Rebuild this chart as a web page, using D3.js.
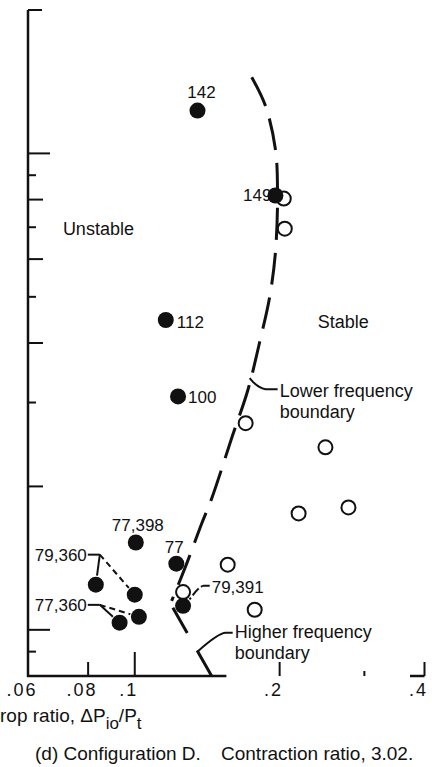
<!DOCTYPE html>
<html>
<head>
<meta charset="utf-8">
<script src="https://cdn.jsdelivr.net/npm/d3@7"></script>
<style>
  body { margin: 0; background: #fff; }
  svg { display: block; font-family: "Liberation Sans", Arial, sans-serif; }
</style>
</head>
<body>
<svg id="chart" width="432" height="767"></svg>
<script>
// filled symbols = unstable runs, open symbols = stable runs
const unstableX = [0.135, 0.196, 0.116, 0.123, 0.1005, 0.122, 0.083, 0.100, 0.126, 0.102, 0.093];
const unstableY = [1.23, 0.816, 0.447, 0.309, 0.1525, 0.1377, 0.1244, 0.1185, 0.1123, 0.1065, 0.1035];
const unstableLabels = ["142", "149", "112", "100", "77,398", "77", "", "", "", "", ""];

const stableX = [0.204, 0.205, 0.170, 0.249, 0.278, 0.219, 0.156, 0.1775, 0.126];
const stableY = [0.804, 0.695, 0.2715, 0.2416, 0.1807, 0.1755, 0.137, 0.1102, 0.120];

const lowerBoundX = [0.175, 0.187, 0.196, 0.198, 0.196, 0.1907, 0.1818, 0.1717, 0.1597, 0.1445, 0.1377, 0.1282, 0.1193];
const lowerBoundY = [1.445, 1.256, 1.02, 0.828, 0.619, 0.500, 0.402, 0.318, 0.256, 0.1887, 0.167, 0.1377, 0.115];
const higherBoundX = [0.120, 0.1445];
const higherBoundY = [0.1112, 0.080];

const xTickValues = [0.06, 0.08, 0.1, 0.2, 0.3, 0.4];
const xTickLabels = [".06", ".08", ".1", ".2", "", ".4"];
const yTickValues = [2, 1, 0.9, 0.8, 0.7, 0.6, 0.5, 0.4, 0.3, 0.2, 0.1, 0.09];

const svg = d3.select("#chart");
const x = d3.scaleLog().domain([0.06, 0.4]).range([28, 424.5]);
const y = d3.scaleLog().domain([0.08, 2]).range([676, 10]);

const ink = "#111";

// ---- axes ----
const axes = svg.append("g").attr("stroke", ink).attr("fill", "none");
axes.append("line")
    .attr("x1", x(0.06)).attr("x2", x(0.06))
    .attr("y1", y(0.08) + 1).attr("y2", y(2))
    .attr("stroke-width", 2.5);
// bottom axis only partly survives in the original
[[0.06, 0.155], [0.375, 0.4]].forEach(function(seg) {
    axes.append("line")
        .attr("x1", x(seg[0]) - 1).attr("x2", x(seg[1]))
        .attr("y1", y(0.08)).attr("y2", y(0.08))
        .attr("stroke-width", 2.5);
});

function yTickLen(v) {
    const e = Math.floor(Math.log10(v) + 1e-9);
    const m = Math.round(v / Math.pow(10, e));
    if (m === 1) return 22;
    if (v === 2) return 14;
    return m % 2 === 0 ? 15 : 8;
}
axes.selectAll(".ytick").data(yTickValues).join("line")
    .attr("class", "ytick")
    .attr("x1", x(0.06)).attr("x2", d => x(0.06) + yTickLen(d))
    .attr("y1", d => y(d)).attr("y2", d => y(d))
    .attr("stroke-width", 2);

const xTickLen = {0.08: 14, 0.1: 24, 0.2: 14, 0.3: 5, 0.4: 14};
axes.selectAll(".xtick").data(xTickValues.filter(d => xTickLen[d])).join("line")
    .attr("class", "xtick")
    .attr("x1", d => x(d)).attr("x2", d => x(d))
    .attr("y1", y(0.08)).attr("y2", d => y(0.08) - xTickLen[d])
    .attr("stroke-width", 2);

svg.append("g").selectAll("text").data(xTickValues).join("text")
    .attr("x", d => x(d) - 6)
    .attr("y", 696)
    .attr("text-anchor", "middle")
    .attr("font-size", 18)
    .attr("letter-spacing", 2)
    .attr("fill", ink)
    .text((d, i) => xTickLabels[i]);

// axis title (left part is cut off in the source figure)
const title = svg.append("text")
    .attr("x", 0).attr("y", 722)
    .attr("font-size", 19)
    .attr("fill", ink);
title.append("tspan").text("rop ratio, \u0394P");
title.append("tspan").attr("dy", 7).attr("font-size", 17).text("io");
title.append("tspan").attr("dy", -7).text("/P");
title.append("tspan").attr("dy", 7).attr("font-size", 17).text("t");

svg.append("text").attr("x", 35).attr("y", 760).attr("font-size", 19).attr("fill", ink)
    .text("(d) Configuration D.");
svg.append("text").attr("x", 221).attr("y", 760).attr("font-size", 19).attr("fill", ink)
    .text("Contraction ratio, 3.02.");

// ---- boundaries ----
const line = d3.line().x(d => x(d[0])).y(d => y(d[1])).curve(d3.curveCatmullRom);
svg.append("path")
    .datum(d3.zip(lowerBoundX, lowerBoundY))
    .attr("d", line)
    .attr("fill", "none").attr("stroke", ink)
    .attr("stroke-width", 3)
    .attr("stroke-dasharray", "32,13");
svg.append("path")
    .datum(d3.zip(higherBoundX, higherBoundY))
    .attr("d", d3.line().x(d => x(d[0])).y(d => y(d[1])))
    .attr("fill", "none").attr("stroke", ink)
    .attr("stroke-width", 3)
    .attr("stroke-dasharray", "29,20");

// ---- region / boundary text ----
const notes = svg.append("g").attr("fill", ink).attr("font-size", 18);
notes.append("text").attr("x", x(0.0709)).attr("y", y(0.675)).text("Unstable");
notes.append("text").attr("x", x(0.2399)).attr("y", y(0.430)).text("Stable");

function twoLine(xv, yv, a, b) {
    const t = notes.append("text").attr("x", x(xv)).attr("y", y(yv));
    t.append("tspan").text(a);
    t.append("tspan").attr("x", x(xv)).attr("dy", 21).text(b);
}
twoLine(0.200, 0.3078, "Lower frequency", "boundary");
twoLine(0.1613, 0.0962, "Higher frequency", "boundary");

const leaders = svg.append("g").attr("fill", "none").attr("stroke", ink).attr("stroke-width", 2);
{
    const tx = x(0.200), ty = y(0.3078);
    leaders.append("path").attr("d", `M${tx - 2},${ty - 8} L${tx - 14},${ty - 8} Q${tx - 22},${ty - 9} ${tx - 30},${ty - 19}`);
}
{
    const tx = x(0.1613), ty = y(0.0962);
    const ax = x(higherBoundX[0]), ay = y(higherBoundY[0]);
    const bx = x(higherBoundX[1]), by = y(higherBoundY[1]);
    const ex = ax + (bx - ax) * 0.64, ey = ay + (by - ay) * 0.64;
    leaders.append("path").attr("d", `M${tx - 2},${ty - 5} L${tx - 9},${ty - 5} Q${tx - 16},${ty - 5} ${ex},${ey}`);
}

// ---- point labels ----
const labelOffsets = [[4, -13, "middle"], [-4, 6, "end"], [11, 8, "start"], [10, 7, "start"], [2, -12, "middle"], [-2, -11, "middle"]];
const pl = svg.append("g").attr("fill", ink).attr("font-size", 17);
unstableLabels.forEach(function(t, i) {
    if (!t) return;
    const o = labelOffsets[i];
    pl.append("text")
        .attr("x", x(unstableX[i]) + o[0]).attr("y", y(unstableY[i]) + o[1])
        .attr("text-anchor", o[2]).text(t);
});

const R = 8;
function edge(fx, fy, i) {
    const px = x(unstableX[i]), py = y(unstableY[i]);
    const d = Math.hypot(px - fx, py - fy);
    return [px - (px - fx) * (R + 1) / d, py - (py - fy) * (R + 1) / d];
}

// grouped labels with leader lines to two points each
const groupText = ["79,360", "77,360"];
const groupX = [0.0795, 0.0795];
const groupY = [0.1397, 0.1096];
const groupSolid = [6, 10];
const groupDashed = [7, 9];
groupText.forEach(function(t, k) {
    const tx = x(groupX[k]), ty = y(groupY[k]);
    pl.append("text").attr("x", tx).attr("y", ty).attr("text-anchor", "end").text(t);
    const vx = tx + 13, vy = ty - 6;
    leaders.append("line").attr("x1", tx + 1).attr("y1", vy).attr("x2", vx).attr("y2", vy);
    const s = edge(vx, vy, groupSolid[k]);
    leaders.append("line").attr("x1", vx).attr("y1", vy).attr("x2", s[0]).attr("y2", s[1]);
    const d = edge(vx, vy, groupDashed[k]);
    leaders.append("line").attr("x1", vx).attr("y1", vy).attr("x2", d[0]).attr("y2", d[1])
        .attr("stroke-dasharray", "6,4");
});
{
    const tx = x(0.1445), ty = y(0.1197);
    pl.append("text").attr("x", tx).attr("y", ty).text("79,391");
    const e = edge(tx - 8, ty - 7, 8);
    leaders.append("path").attr("d", `M${tx - 2},${ty - 7} L${tx - 8},${ty - 7} Q${tx - 13},${ty - 6} ${e[0]},${e[1]}`)
        .attr("stroke-dasharray", "9,3");
}

// ---- symbols ----
svg.append("g").selectAll("circle").data(d3.zip(stableX, stableY)).join("circle")
    .attr("cx", d => x(d[0])).attr("cy", d => y(d[1]))
    .attr("r", 7)
    .attr("fill", "none").attr("stroke", ink).attr("stroke-width", 2);
svg.append("g").selectAll("circle").data(d3.zip(unstableX, unstableY)).join("circle")
    .attr("cx", d => x(d[0])).attr("cy", d => y(d[1]))
    .attr("r", R)
    .attr("fill", ink);
</script>
</body>
</html>
